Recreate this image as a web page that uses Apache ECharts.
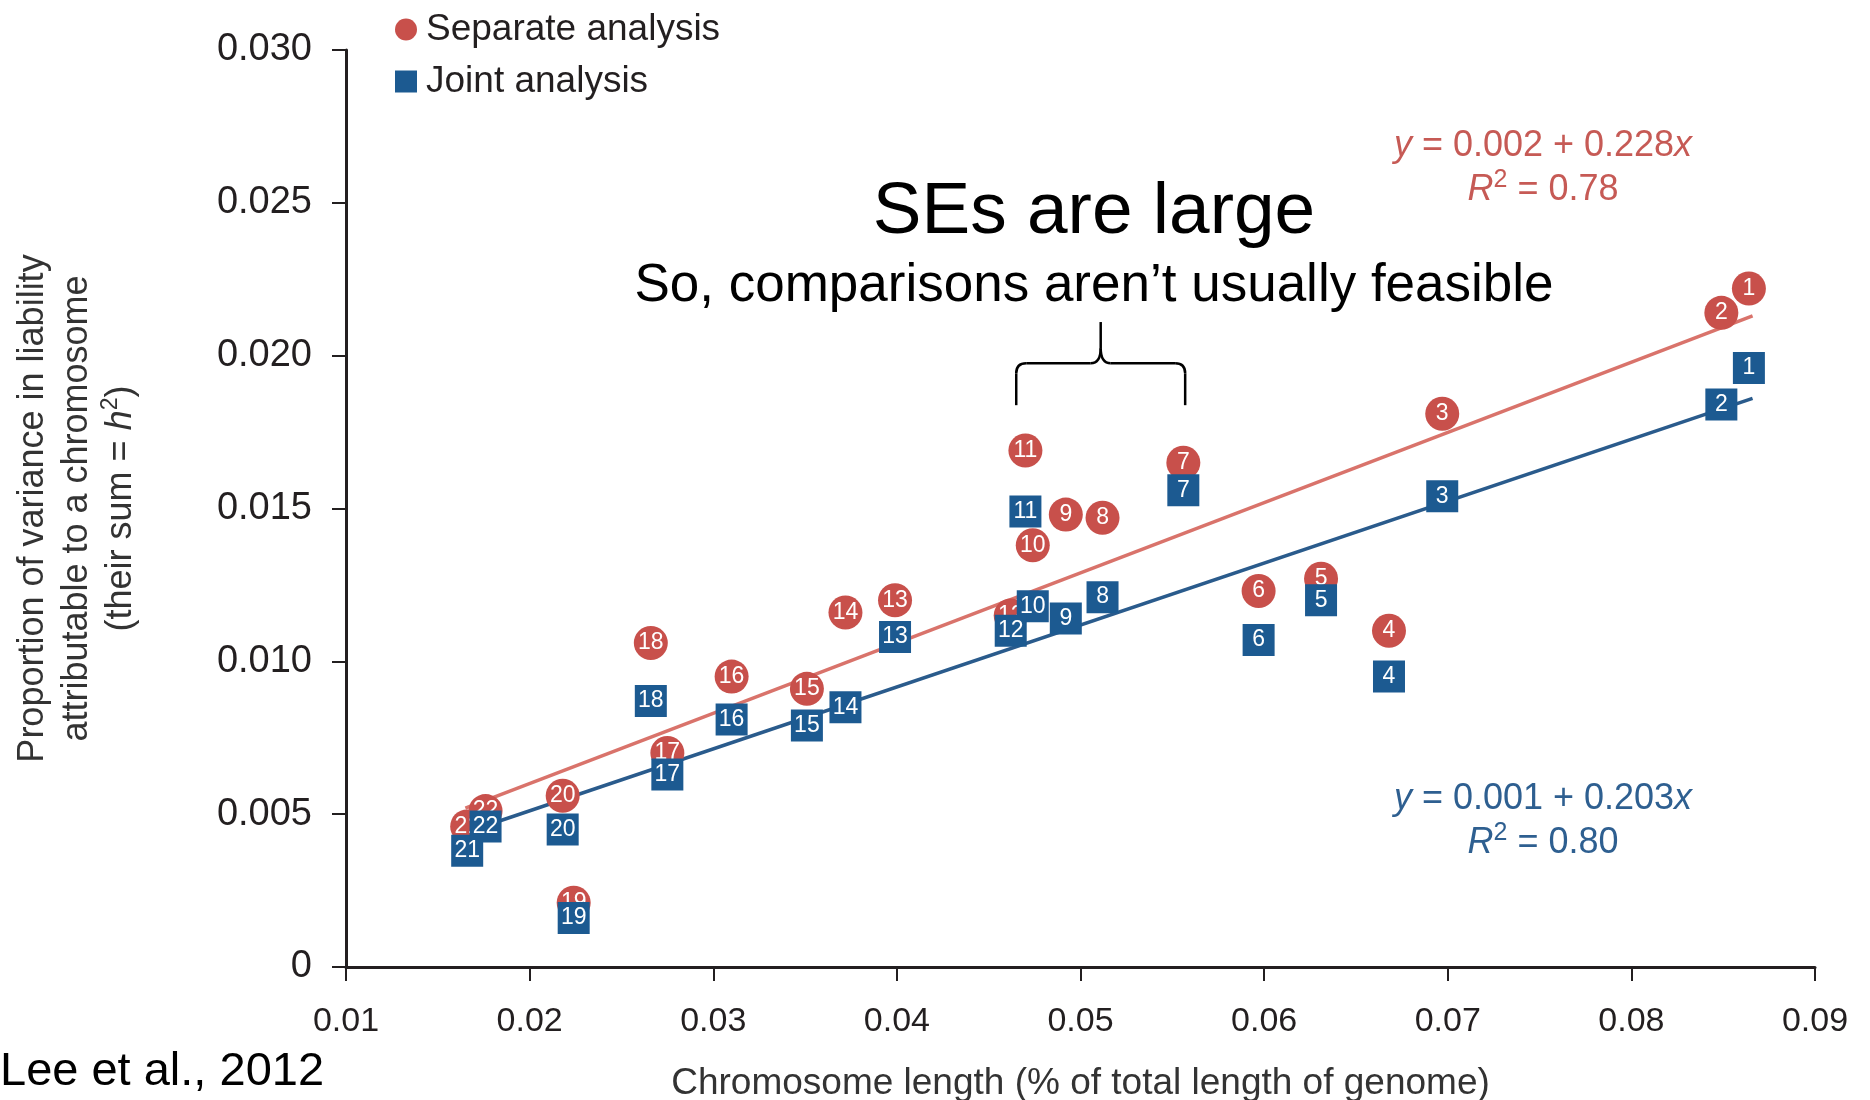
<!DOCTYPE html>
<html>
<head>
<meta charset="utf-8">
<script src="https://cdn.jsdelivr.net/npm/echarts@6/dist/echarts.min.js"></script>
<style>
  html, body { margin: 0; padding: 0; background: #fff; }
  #main { width: 1870px; height: 1100px; }
</style>
</head>
<body>
<div id="main"></div>
<script>
// chromosome numbers and their length (% of genome)
var chromosomes = ['1', '2', '3', '4', '5', '6', '7', '8', '9', '10', '11',
  '12', '13', '14', '15', '16', '17', '18', '19', '20', '21', '22'];
var chromLength = [0.0864, 0.0849, 0.0697, 0.0668, 0.0631, 0.0597, 0.0556, 0.0512, 0.0492, 0.0474, 0.0470,
  0.0462, 0.0399, 0.0372, 0.0351, 0.0310, 0.0275, 0.0266, 0.0224, 0.0218, 0.0166, 0.0176];
// proportion of variance, separate analysis (red circles)
var separateH2 = [0.0222, 0.0214, 0.0181, 0.0110, 0.0127, 0.0123, 0.0165, 0.0147, 0.0148, 0.0138, 0.0169,
  0.0115, 0.0120, 0.0116, 0.0091, 0.0095, 0.0070, 0.0106, 0.0021, 0.0056, 0.0046, 0.0051];
// proportion of variance, joint analysis (blue squares)
var jointH2 = [0.0196, 0.0184, 0.0154, 0.0095, 0.0120, 0.0107, 0.0156, 0.0121, 0.0114, 0.0118, 0.0149,
  0.0110, 0.0108, 0.0085, 0.0079, 0.0081, 0.0063, 0.0087, 0.0016, 0.0045, 0.0038, 0.0046];
// fitted regression lines (end points)
var separateFit = [[0.0165, 0.0052], [0.0866, 0.0213]];
var jointFit = [[0.0165, 0.0044], [0.0866, 0.0186]];
var xTicks = [0.01, 0.09, 0.01];   // min, max, step
var yTicks = [0, 0.03, 0.005];

var FONT = 'Liberation Sans, Arial, Helvetica, sans-serif';
var RED = '#c8504b', BLUE = '#1c5a91';

var chart = echarts.init(document.getElementById('main'));

function pts(ys) {
  return chromLength.map(function (x, i) { return [x, ys[i], chromosomes[i]]; });
}

var numLabel = {
  show: true,
  position: 'inside',
  formatter: function (p) { return p.data[2]; },
  color: '#fff',
  fontSize: 23,
  fontFamily: FONT
};

chart.setOption({
  animation: false,
  backgroundColor: '#fff',
  textStyle: { fontFamily: FONT },
  grid: { left: 346, right: 55, top: 50, bottom: 133, containLabel: false, outerBoundsMode: 'none' },
  legend: {
    orient: 'vertical',
    left: 390,
    top: 6,
    itemWidth: 22,
    itemHeight: 22,
    itemGap: 15,
    textStyle: { fontSize: 37, color: '#231f20', fontFamily: FONT, padding: [0, 0, 0, 4] },
    data: [
      { name: 'Separate analysis', icon: 'circle' },
      { name: 'Joint analysis', icon: 'rect' }
    ]
  },
  title: [
    { text: 'SEs are large', left: 1094, top: 176, textAlign: 'center', padding: 0,
      textStyle: { fontSize: 73, fontWeight: 'normal', color: '#000', fontFamily: FONT } },
    { text: 'So, comparisons aren\u2019t usually feasible', left: 1094, top: 260, textAlign: 'center', padding: 0,
      textStyle: { fontSize: 53, fontWeight: 'normal', color: '#000', fontFamily: FONT } },
    { text: '{i|y} = 0.002 + 0.228{i|x}\n{i|R}{sup|2} = 0.78', left: 1543, top: 124, textAlign: 'center', padding: 0,
      textStyle: { fontSize: 36, lineHeight: 44, fontWeight: 'normal', color: '#c65a55', fontFamily: FONT,
        rich: { i: { fontStyle: 'italic', fontSize: 36, color: '#c65a55' },
                sup: { fontSize: 25, verticalAlign: 'top', color: '#c65a55' } } } },
    { text: '{i|y} = 0.001 + 0.203{i|x}\n{i|R}{sup|2} = 0.80', left: 1543, top: 777, textAlign: 'center', padding: 0,
      textStyle: { fontSize: 36, lineHeight: 44, fontWeight: 'normal', color: '#2e5f90', fontFamily: FONT,
        rich: { i: { fontStyle: 'italic', fontSize: 36, color: '#2e5f90' },
                sup: { fontSize: 25, verticalAlign: 'top', color: '#2e5f90' } } } },
    { text: 'Lee et al., 2012', left: 0, top: 1049, padding: 0,
      textStyle: { fontSize: 47, fontWeight: 'normal', color: '#000', fontFamily: FONT } }
  ],
  xAxis: {
    type: 'value',
    min: xTicks[0], max: xTicks[1], interval: xTicks[2],
    name: 'Chromosome length (% of total length of genome)',
    nameLocation: 'middle',
    nameGap: 98,
    nameTextStyle: { fontSize: 37, color: '#333', fontFamily: FONT },
    axisLine: { lineStyle: { color: '#231f20', width: 3 } },
    axisTick: { inside: false, length: 14, lineStyle: { color: '#231f20', width: 2 } },
    axisLabel: { fontSize: 34, color: '#231f20', margin: 38, fontFamily: FONT,
      formatter: function (v) { return v.toFixed(2); } },
    splitLine: { show: false }
  },
  yAxis: {
    type: 'value',
    min: yTicks[0], max: yTicks[1], interval: yTicks[2],
    name: 'Proportion of variance in liability\nattributable to a chromosome\n(their sum = {i|h}{sup|2})',
    nameLocation: 'middle',
    nameRotate: 90,
    nameGap: 203,
    nameTextStyle: { fontSize: 36, lineHeight: 44, color: '#333', fontFamily: FONT, align: 'center',
      rich: { i: { fontStyle: 'italic', fontSize: 36, color: '#333' },
              sup: { fontSize: 23, verticalAlign: 'top', color: '#333' } } },
    axisLine: { show: true, lineStyle: { color: '#231f20', width: 3 } },
    axisTick: { show: true, inside: false, length: 14, lineStyle: { color: '#231f20', width: 2 } },
    axisLabel: { fontSize: 38, color: '#231f20', margin: 34, fontFamily: FONT,
      formatter: function (v) { return v === 0 ? '0' : v.toFixed(3); } },
    splitLine: { show: false }
  },
  series: [
    { type: 'line', data: separateFit, symbol: 'none', silent: true, z: 1,
      lineStyle: { color: '#d9736b', width: 3.5 } },
    { type: 'line', data: jointFit, symbol: 'none', silent: true, z: 1,
      lineStyle: { color: '#2a5b8c', width: 3.5 } },
    { name: 'Separate analysis', type: 'scatter', symbol: 'circle', symbolSize: 34, z: 3,
      itemStyle: { color: RED, opacity: 1 }, label: numLabel, data: pts(separateH2) },
    { name: 'Joint analysis', type: 'scatter', symbol: 'rect', symbolSize: 32, z: 4,
      itemStyle: { color: BLUE, opacity: 1 }, label: numLabel, data: pts(jointH2) }
  ]
});

// curly brace over chromosomes 7-12, placed in data coordinates
function px(x, y) { return chart.convertToPixel({ gridIndex: 0 }, [x, y]); }
var bl = px(0.0465, 0.01838), sh = px(0.0465, 0.01975), pk = px(0.0511, 0.0211), br = px(0.0557, 0.01838);
var r = 10;
var ys = sh[1], xm = pk[0];
var braceStyle = { fill: null, stroke: '#000', lineWidth: 2.5 };
function line(pts) { return { type: 'polyline', shape: { points: pts }, style: braceStyle }; }
function curve(x1, y1, cx, cy, x2, y2) {
  return { type: 'bezierCurve', shape: { x1: x1, y1: y1, cpx1: cx, cpy1: cy, x2: x2, y2: y2 }, style: braceStyle };
}
chart.setOption({
  graphic: [
    line([[bl[0], bl[1]], [bl[0], ys + r]]),
    curve(bl[0], ys + r, bl[0], ys, bl[0] + r, ys),
    line([[bl[0] + r, ys], [xm - r, ys]]),
    curve(xm - r, ys, xm, ys, xm, ys - r * 1.5),
    line([[xm, ys - r * 1.5], [xm, pk[1]]]),
    curve(xm, ys - r * 1.5, xm, ys, xm + r, ys),
    line([[xm + r, ys], [br[0] - r, ys]]),
    curve(br[0] - r, ys, br[0], ys, br[0], ys + r),
    line([[br[0], ys + r], [br[0], br[1]]])
  ]
});
</script>
</body>
</html>
